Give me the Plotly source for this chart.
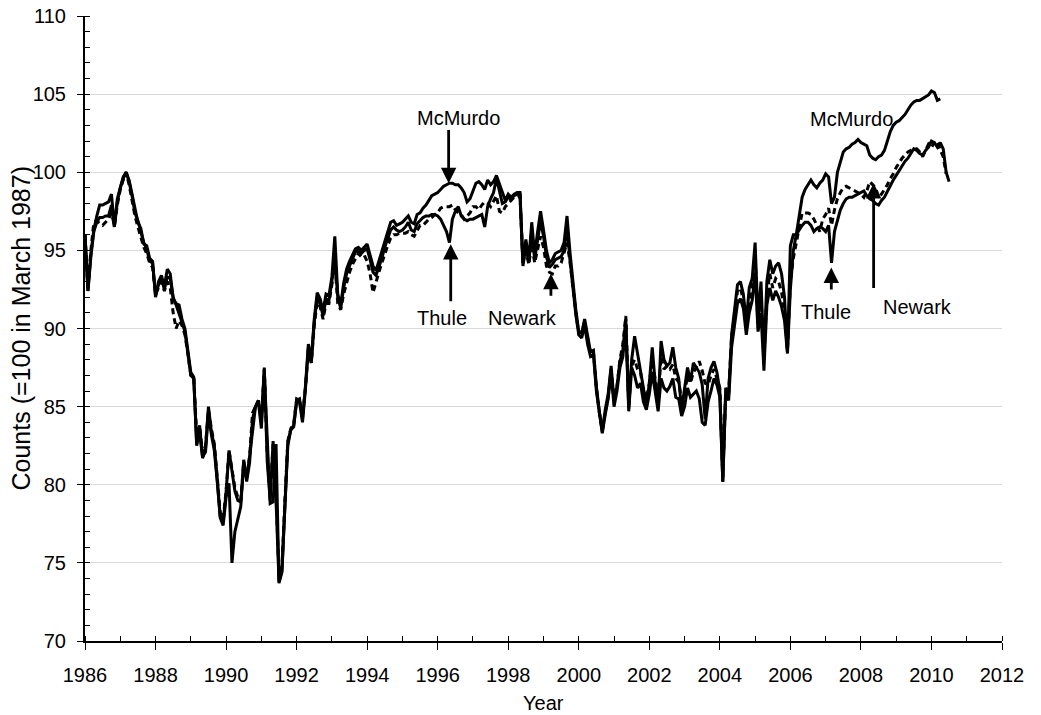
import plotly.graph_objects as go

# Monthly neutron monitor counts, normalised to 100 in March 1987.
# Each series starts in January 1986; one row per calendar year.
start_year = 1986

mcmurdo = [
    96.0, 92.4, 94.8, 96.3, 97.2, 97.9, 97.9, 98.0, 98.1, 98.6, 96.5, 98.3,   # 1986
    99.1, 99.7, 100.0, 99.5, 98.6, 97.6, 96.8, 96.4, 95.4, 95.3, 94.5, 94.3,  # 1987
    92.0, 93.0, 93.4, 92.7, 93.8, 93.5, 91.9, 91.6, 91.5, 90.6, 90.0, 88.6,   # 1988
    87.2, 86.9, 82.5, 83.8, 81.7, 82.3, 85.0, 83.4, 82.5, 80.3, 78.0, 77.6,   # 1989
    79.5, 82.2, 81.0, 79.6, 79.0, 78.9, 81.2, 80.4, 81.8, 83.5, 85.0, 85.4,   # 1990
    84.0, 87.5, 81.5, 79.0, 82.8, 79.0, 73.8, 74.5, 78.8, 82.7, 83.5, 83.8,   # 1991
    85.4, 85.5, 84.2, 86.3, 89.0, 88.0, 90.6, 92.3, 91.9, 91.1, 92.2, 92.1,   # 1992
    93.3, 95.9, 92.2, 91.5, 92.9, 93.8, 94.3, 94.7, 95.1, 95.2, 95.0, 95.2,   # 1993
    95.4, 94.7, 94.0, 93.7, 94.3, 94.9, 95.6, 96.1, 96.8, 96.9, 96.6, 96.7,   # 1994
    96.8, 97.0, 97.2, 96.8, 96.7, 97.3, 97.4, 97.7, 97.9, 98.2, 98.5, 98.6,   # 1995
    98.7, 98.9, 99.1, 99.2, 99.3, 99.3, 99.2, 99.2, 99.0, 98.7, 98.1, 98.3,   # 1996
    98.8, 99.3, 99.4, 99.2, 98.9, 99.5, 99.2, 99.4, 99.8, 99.3, 98.7, 98.2,   # 1997
    98.6, 98.4, 98.6, 98.7, 98.7, 94.2, 95.7, 94.4, 96.8, 94.7, 96.2, 97.5,   # 1998
    96.3, 95.0, 94.2, 94.4, 94.8, 94.9, 95.0, 95.5, 97.2, 94.9, 92.8, 91.2,   # 1999
    89.8, 89.7, 90.6, 89.4, 88.5, 88.6, 86.3, 84.7, 83.4, 84.8, 85.8, 87.6,   # 2000
    85.4, 86.3, 87.9, 88.6, 90.6, 84.9, 88.0, 89.5, 88.4, 87.5, 86.2, 85.0,   # 2001
    86.5, 88.8, 86.5, 85.0, 89.2, 88.0, 87.6, 87.8, 88.8, 87.5, 86.8, 84.8,   # 2002
    86.0, 87.5, 86.6, 87.8, 87.5, 87.2, 86.4, 84.2, 86.8, 87.5, 87.9, 87.2,   # 2003
    86.0, 80.2, 86.2, 85.8, 89.6, 91.2, 92.8, 93.0, 92.2, 90.4, 92.6, 93.2,   # 2004
    95.5, 90.5, 93.0, 88.2, 93.0, 94.4, 93.5, 94.0, 94.2, 93.5, 92.0, 88.5,   # 2005
    95.3, 96.0, 96.0, 97.2, 98.4, 98.9, 99.2, 99.5, 99.2, 99.0, 99.3, 99.5,   # 2006
    99.9, 99.7, 98.0, 98.4, 100.0, 100.7, 101.3, 101.5, 101.6, 101.8, 101.9, 102.1,  # 2007
    101.9, 101.8, 101.7, 101.1, 100.9, 100.8, 101.0, 101.1, 101.4, 102.0, 102.6, 103.0,  # 2008
    103.2, 103.3, 103.5, 103.7, 104.0, 104.3, 104.5, 104.6, 104.6, 104.7, 104.8, 104.95,  # 2009
    105.2, 105.1, 104.6, 104.7,                                               # 2010
]

thule = [
    96.0, 92.4, 94.6, 96.2, 96.8, 97.1, 97.1, 97.2, 97.2, 97.9, 96.5, 98.1,   # 1986
    99.0, 99.6, 100.0, 99.4, 98.5, 97.4, 96.9, 96.2, 95.5, 95.1, 94.3, 94.2,  # 1987
    92.1, 92.8, 93.2, 92.5, 93.3, 93.2, 92.0, 91.5, 91.0, 90.4, 89.8, 88.5,   # 1988
    87.0, 86.8, 82.6, 83.3, 81.8, 82.1, 84.6, 83.2, 82.2, 80.2, 77.9, 77.4,   # 1989
    79.2, 80.1, 75.0, 77.0, 77.9, 78.6, 81.6, 80.2, 81.4, 84.2, 85.0, 85.3,   # 1990
    83.6, 87.2, 83.0, 78.8, 78.9, 82.6, 73.7, 74.4, 78.5, 82.5, 83.5, 83.7,   # 1991
    85.3, 85.3, 84.0, 86.1, 88.8, 87.8, 90.4, 92.0, 91.6, 90.8, 91.9, 91.8,   # 1992
    93.0, 94.6, 92.0, 91.3, 92.6, 93.5, 94.0, 94.5, 94.9, 95.0, 94.8, 95.0,   # 1993
    95.1, 94.4, 93.6, 93.4, 93.9, 94.5, 95.2, 95.8, 96.3, 96.5, 96.3, 96.2,   # 1994
    96.3, 96.5, 96.8, 96.3, 96.2, 96.7, 96.9, 97.1, 97.2, 97.2, 97.3, 97.3,   # 1995
    97.2, 97.0, 96.6, 96.2, 95.5, 97.0, 97.5, 97.8, 97.2, 97.0, 96.9, 97.0,   # 1996
    97.0, 97.1, 97.2, 97.3, 96.5, 97.8, 98.3, 98.7, 99.6, 98.8, 98.0, 98.1,   # 1997
    98.4, 98.3, 98.5, 98.6, 98.6, 94.0, 95.3, 94.2, 96.3, 94.4, 95.7, 96.9,   # 1998
    95.9, 94.6, 93.9, 94.1, 94.4, 94.5, 94.6, 95.0, 96.6, 94.4, 92.4, 90.9,   # 1999
    89.6, 89.4, 90.2, 89.0, 88.2, 88.3, 86.0, 84.5, 83.3, 84.5, 85.5, 87.2,   # 2000
    85.0, 86.0, 87.5, 88.2, 90.3, 84.7, 87.5, 87.0, 86.2, 86.5, 85.3, 84.8,   # 2001
    85.8, 87.2, 86.0, 84.7, 86.8, 86.2, 86.0, 86.3, 86.8, 85.6, 85.5, 84.4,   # 2002
    85.0, 86.2, 85.6, 85.8, 86.0, 85.5, 84.0, 83.8, 85.3, 86.0, 86.8, 86.4,   # 2003
    85.6, 80.2, 85.8, 85.4, 88.8, 90.2, 91.6, 91.9, 91.3, 89.6, 91.0, 91.8,   # 2004
    93.5, 89.8, 91.0, 87.3, 91.5, 92.6, 91.8, 92.4, 92.0, 91.4, 90.5, 88.4,   # 2005
    92.5, 95.0, 96.0, 96.3, 96.6, 96.8, 96.8, 96.6, 96.2, 96.4, 96.5, 96.4,   # 2006
    96.2, 96.6, 94.2, 96.2, 97.0, 97.6, 98.0, 98.3, 98.4, 98.4, 98.5, 98.6,   # 2007
    98.7, 98.8, 98.5, 98.3, 98.2, 98.0, 97.9, 98.2, 98.4, 98.8, 99.1, 99.5,   # 2008
    99.8, 100.1, 100.4, 100.7, 100.9, 101.2, 101.5, 101.4, 101.2, 101.1, 101.4, 101.6,  # 2009
    102.0, 101.9, 101.6, 101.9, 101.5, 100.0, 99.4,                           # 2010
]

newark = [
    96.0, 92.6, 95.0, 96.8, 96.9, 96.7, 96.6, 96.8, 97.0, 97.4, 96.6, 97.9,   # 1986
    98.9, 99.5, 100.0, 99.2, 98.2, 97.2, 96.5, 95.9, 95.2, 94.8, 94.2, 93.9,  # 1987
    92.2, 92.6, 93.0, 92.4, 93.0, 92.6, 91.0, 90.0, 90.5, 90.2, 89.6, 88.4,   # 1988
    87.0, 86.9, 83.2, 83.8, 82.0, 82.5, 84.8, 83.6, 82.6, 80.5, 78.2, 77.8,   # 1989
    79.6, 82.2, 81.0, 79.8, 79.2, 79.0, 81.5, 80.5, 81.8, 84.6, 85.0, 85.4,   # 1990
    84.2, 87.4, 82.0, 79.2, 82.6, 79.4, 74.2, 74.8, 78.9, 82.8, 83.6, 83.9,   # 1991
    85.5, 85.4, 84.3, 86.2, 88.6, 87.8, 90.2, 91.7, 91.4, 90.6, 91.6, 91.6,   # 1992
    92.8, 94.2, 91.6, 91.2, 92.2, 93.0, 93.6, 94.1, 94.5, 94.8, 94.6, 94.7,   # 1993
    94.3, 93.5, 92.3, 93.0, 93.6, 94.2, 94.8, 95.3, 95.8, 96.0, 96.0, 96.1,   # 1994
    96.1, 96.1, 96.2, 96.0, 95.9, 96.3, 96.6, 96.6, 96.8, 97.0, 97.1, 97.3,   # 1995
    97.4, 97.7, 97.8, 97.8, 97.8, 97.9, 97.6, 97.4, 97.3, 97.0, 97.2, 97.4,   # 1996
    97.8, 97.8, 97.6, 97.9, 98.1, 98.0, 97.8, 98.2, 98.5, 97.5, 97.4, 97.8,   # 1997
    98.0, 98.2, 98.4, 98.4, 98.5, 94.2, 95.0, 94.1, 95.4, 94.2, 95.0, 95.9,   # 1998
    95.2, 94.0, 93.6, 93.5, 94.0, 94.0, 94.2, 94.8, 95.5, 94.3, 92.6, 91.0,   # 1999
    89.7, 89.8, 90.4, 89.3, 88.4, 88.5, 86.2, 84.6, 83.5, 84.6, 85.6, 87.4,   # 2000
    85.3, 86.3, 88.0, 89.0, 90.8, 85.1, 87.6, 88.0, 87.4, 87.2, 86.0, 85.5,   # 2001
    86.5, 88.0, 86.8, 85.5, 88.2, 87.4, 87.6, 87.4, 87.7, 86.8, 86.6, 85.4,   # 2002
    85.8, 87.0, 86.5, 87.2, 87.5, 87.9, 87.3, 86.5, 86.4, 87.0, 87.4, 86.8,   # 2003
    86.2, 80.5, 86.0, 85.9, 89.5, 90.8, 92.4, 92.6, 91.8, 90.0, 91.8, 92.6,   # 2004
    94.8, 90.0, 92.0, 88.0, 92.2, 93.5, 92.6, 93.2, 93.0, 92.3, 91.2, 88.6,   # 2005
    93.0, 94.5, 95.4, 96.3, 97.4, 97.4, 97.4, 97.3, 97.0, 96.6, 96.2, 97.0,   # 2006
    97.3, 97.7, 96.6, 97.6, 98.3, 98.7, 99.0, 99.1, 99.0, 98.9, 98.8, 98.7,   # 2007
    98.6, 98.4, 98.8, 99.4, 99.2, 99.0, 98.4, 98.6, 98.9, 99.2, 99.6, 99.9,   # 2008
    100.3, 100.6, 100.9, 101.1, 101.3, 101.4, 101.5, 101.5, 101.3, 101.0, 101.4, 101.8,  # 2009
    101.6, 101.9, 102.0, 101.4, 101.0, 99.9,                                  # 2010
]

x_ticks = list(range(1986, 2013, 2))
y_ticks = list(range(70, 111, 5))

# (label, text x, text y, arrow tip x, tip y, tail x, tail y) -- None = no arrow
callouts = [
    ("McMurdo", 1996.58, 103.5, 1996.31, 99.3, 1996.31, 102.8),
    ("Thule", 1996.13, 90.7, 1996.37, 95.4, 1996.37, 91.65),
    ("Newark", 1998.41, 90.7, 1999.21, 93.5, 1999.21, 92.0),
    ("McMurdo", 2007.73, 103.4, None, None, None, None),
    ("Thule", 2007.02, 91.05, 2007.16, 93.9, 2007.16, 92.4),
    ("Newark", 2009.59, 91.35, 2008.36, 99.3, 2008.36, 92.5),
]


def months(values):
    return [start_year + i / 12.0 for i in range(len(values))]


FONT = "Liberation Sans, Arial, Helvetica, sans-serif"
LW = 3

fig = go.Figure()
fig.add_trace(go.Scatter(x=months(newark), y=newark, mode="lines", name="Newark",
                         line=dict(color="black", width=LW, dash="6px,4px")))
fig.add_trace(go.Scatter(x=months(thule), y=thule, mode="lines", name="Thule",
                         line=dict(color="black", width=LW)))
fig.add_trace(go.Scatter(x=months(mcmurdo), y=mcmurdo, mode="lines", name="McMurdo",
                         line=dict(color="black", width=LW)))

annotations = []
for label, tx, ty, hx, hy, sx, sy in callouts:
    annotations.append(dict(x=tx, y=ty, xref="x", yref="y", text=label, showarrow=False,
                            font=dict(family=FONT, size=20, color="black"),
                            xanchor="center", yanchor="middle"))
    if hx is not None:
        annotations.append(dict(x=hx, y=hy, xref="x", yref="y", ax=sx, ay=sy,
                                axref="x", ayref="y", text="", showarrow=True,
                                arrowhead=2, arrowsize=1.1, arrowwidth=2.8,
                                arrowcolor="black", standoff=0))

# Axis titles
annotations.append(dict(x=0.5, y=0, xref="paper", yref="paper", text="Year",
                        showarrow=False, yshift=-62, xanchor="center", yanchor="middle",
                        font=dict(family=FONT, size=20, color="black")))
annotations.append(dict(x=0, y=0.5, xref="paper", yref="paper",
                        text="Counts (=100 in March 1987)", textangle=-90,
                        showarrow=False, xshift=-65, xanchor="center", yanchor="middle",
                        font=dict(family=FONT, size=25, color="black")))

fig.update_layout(
    width=1041, height=715,
    margin=dict(l=85, r=39, t=16, b=74),
    paper_bgcolor="white", plot_bgcolor="white",
    showlegend=False,
    annotations=annotations,
    xaxis=dict(
        range=[1986, 2012], tickmode="array", tickvals=x_ticks,
        ticktext=[str(v) for v in x_ticks], automargin=False,
        showgrid=False, zeroline=False,
        showline=True, linecolor="black", linewidth=2,
        ticks="outside", ticklen=7, tickwidth=1, tickcolor="black",
        ticklabelstandoff=8,
        minor=dict(dtick=1, tick0=1986, ticks="inside", ticklen=5, tickwidth=1,
                   tickcolor="black", showgrid=False),
        tickfont=dict(family=FONT, size=20, color="black"),
    ),
    yaxis=dict(
        range=[70, 110], tickmode="array", tickvals=y_ticks,
        ticktext=[str(v) for v in y_ticks], automargin=False,
        showgrid=True, gridcolor="#d9d9d9", gridwidth=1, zeroline=False,
        showline=True, linecolor="black", linewidth=2,
        ticks="outside", ticklen=6, tickwidth=1, tickcolor="black",
        ticklabelstandoff=7,
        minor=dict(dtick=1, tick0=70, ticks="inside", ticklen=5, tickwidth=1,
                   tickcolor="black", showgrid=False),
        tickfont=dict(family=FONT, size=20, color="black"),
    ),
)

fig.write_html("out.html")
